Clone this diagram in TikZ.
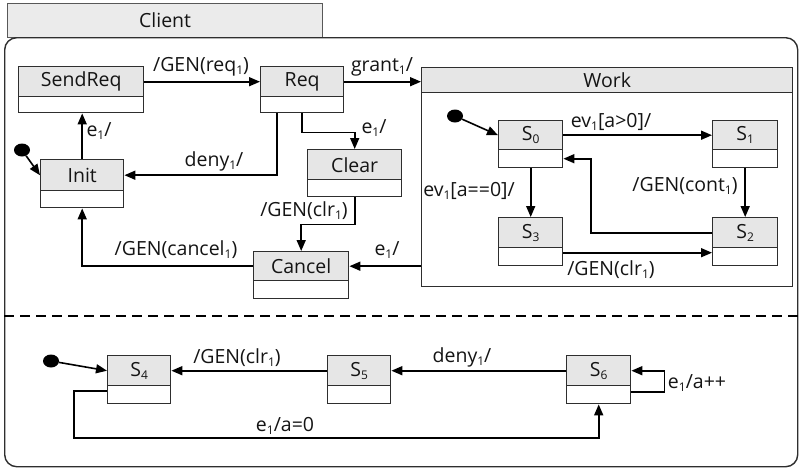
\documentclass[tikz,border=0pt]{standalone}
\usepackage{fontspec}
\setmainfont{Open Sans}
\usetikzlibrary{arrows.meta,calc,shapes.geometric}

\definecolor{boxline}{HTML}{2E2E2E}
\definecolor{hdrfill}{HTML}{E6E6E6}
\definecolor{tabfill}{HTML}{EBEBEB}
\definecolor{txt}{HTML}{141414}

% small lowered index, e.g. e_1
\newcommand{\lo}[1]{\raisebox{-0.3ex}{\fontsize{12}{12}\selectfont #1}}

% a state: name, left, top, right, divider, bottom, title
\newcommand{\umlstate}[7]{%
  \node[hdr, minimum width={#4-#2}, minimum height={#5-#3}] (#1) at (#2,#3) {#7};
  \node[bdy, minimum width={#4-#2}, minimum height={#6-#5}] (#1b) at (#2,#5) {};
}

\tikzset{
  hdr/.style={draw=boxline, fill=hdrfill, line width=1.4pt, inner sep=0pt,
    anchor=north west, text=txt, font=\fontsize{19.5}{21}\selectfont},
  bdy/.style={draw=boxline, fill=white, line width=1.4pt, inner sep=0pt,
    anchor=north west},
  arr/.style={line width=1.6pt, -{Triangle[length=11pt,width=9pt]}},
  lbl/.style={font=\fontsize{19.5}{21}\selectfont, text=txt, inner sep=0pt},
  initdot/.style={ellipse, fill=black, minimum width=16pt, minimum height=13pt,
    inner sep=0pt},
}

\begin{document}
\begin{tikzpicture}[x=1pt, y=-1pt]
\useasboundingbox (0,0) rectangle (800,469);

% region tab and frame
\node[draw=boxline!80, fill=tabfill, line width=1.2pt, anchor=north west,
  minimum width=315, minimum height=34, inner sep=0pt, text=txt,
  font=\fontsize{19.5}{21}\selectfont] (client) at (7,3) {Client};
\node[draw=boxline, line width=1.4pt, rounded corners=12pt, anchor=north west,
  minimum width=793, minimum height=429, inner sep=0pt] (region) at (4,37) {};
\draw[line width=2.2pt, dash pattern=on 10pt off 6pt]
  (region.west |- 0,316) -- (region.east |- 0,316);

% upper region states
\umlstate{sendreq}{18}{66}{143}{96}{112}{SendReq}
\umlstate{req}{260}{66}{343}{96}{112}{Req}
\umlstate{init}{40}{159}{123}{190}{207}{Init}
\umlstate{clear}{307}{149}{401}{179}{196}{Clear}
\umlstate{cancel}{253}{251}{348}{280}{298}{Cancel}
\umlstate{work}{421}{67}{792}{92}{286}{Work}
\umlstate{s0}{498}{120}{562}{149}{167}{S\lo{0}}
\umlstate{s1}{712}{120}{777}{149}{167}{S\lo{1}}
\umlstate{s3}{498}{217}{562}{247}{265}{S\lo{3}}
\umlstate{s2}{712}{217}{777}{247}{265}{S\lo{2}}

% lower region states
\umlstate{s4}{107}{355}{170}{385}{403}{S\lo{4}}
\umlstate{s5}{327}{355}{390}{385}{403}{S\lo{5}}
\umlstate{s6}{566}{355}{630}{385}{403}{S\lo{6}}

% initial pseudostates
\node[initdot] (i0) at (22,150) {};
\node[initdot] (i1) at (455,116) {};
\node[initdot] (i2) at (51,361) {};

% upper region transitions
\draw[arr] (i0) -- (init.west);
\draw[arr] (init.north) -- (init.north |- sendreqb.south);
\draw[arr] (sendreq.east) -- (req.west);
\draw[arr] (req.east) -- (work.west |- req.east);
\draw[arr] ([xshift=-25pt]reqb.south) |- (init.east);
\draw[arr] (reqb.south) -- ++(0,19) -| (clear.north);
\draw[arr] (clearb.south) -- ++(0,27) -| (cancel.north);
\draw[arr] (cancel.west) -| (initb.south);
\draw[arr] (workb.west |- cancel.east) -- (cancel.east);

% Work substates
\draw[arr] (i1) -- (s0.west);
\draw[arr] (s0.east) -- (s1.west);
\draw[arr] (s1b.south) -- (s2.north);
\draw[arr] (s0b.south) -- (s3.north);
\draw[arr] (s2.west) -- ++(-121,0) |- (s0b.east);
\draw[arr] ([yshift=4pt]s3b.east) -- ([yshift=4pt]s2b.west);

% lower region transitions
\draw[arr] (i2) -- (s4.west);
\draw[arr] (s5.west) -- (s4.east);
\draw[arr] (s6.west) -- (s5.east);
\draw[arr] ([yshift=3pt]s6b.east) -- ++(33,0) |- (s6.east);
\draw[arr] ([yshift=4pt]s4b.west) -- ++(-33,0) -- ++(0,47) -| (s6b.south);

% transition labels
\node[lbl] (t1) at (201,67) {/GEN(req\lo{1})};
\node[lbl] (t2) at (382,67) {grant\lo{1}/};
\node[lbl] (t3) at (99,131) {e\lo{1}/};
\node[lbl] (t4) at (214,161) {deny\lo{1}/};
\node[lbl] (t5) at (374,128) {e\lo{1}/};
\node[lbl] (t6) at (304,211) {/GEN(clr\lo{1})};
\node[lbl] (t7) at (176,250) {/GEN(cancel\lo{1})};
\node[lbl] (t8) at (387,250) {e\lo{1}/};
\node[lbl] (t9) at (611,122) {ev\lo{1}[a>0]/};
\node[lbl] (t10) at (685,186) {/GEN(cont\lo{1})};
\node[lbl] (t11) at (469,191) {ev\lo{1}[a==0]/};
\node[lbl] (t12) at (611,270) {/GEN(clr\lo{1})};
\node[lbl] (t13) at (237,358) {/GEN(clr\lo{1})};
\node[lbl] (t14) at (462,357) {deny\lo{1}/};
\node[lbl] (t15) at (697,383) {e\lo{1}/a++};
\node[lbl] (t16) at (285,426) {e\lo{1}/a=0};
\end{tikzpicture}
\end{document}
